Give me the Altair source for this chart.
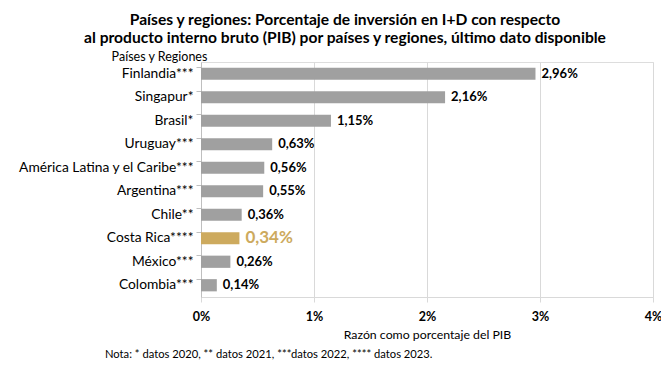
import altair as alt
import pandas as pd

paises = ["Finlandia***", "Singapur*", "Brasil*", "Uruguay***",
          "América Latina y el Caribe***", "Argentina***", "Chile**",
          "Costa Rica****", "México***", "Colombia***"]
valores = [2.96, 2.16, 1.15, 0.63, 0.56, 0.55, 0.36, 0.34, 0.26, 0.14]
destacado = "Costa Rica****"
titulo = ["Países y regiones: Porcentaje de inversión en I+D con respecto",
          "al producto interno bruto (PIB) por países y regiones, último dato disponible"]
nota = ["Nota: * datos 2020, ** datos 2021, ***datos 2022, **** datos 2023."]

FONT = "Lato"
GREY = "#A0A0A0"
GOLD = "#CDAA5E"

df = pd.DataFrame({"pais": paises, "valor": valores})
df["etiqueta"] = [f"{v:.2f}".replace(".", ",") + "%" for v in valores]
df["grupo"] = ["dest" if p == destacado else "otro" for p in paises]

y = alt.Y("pais:N", sort=paises,
          scale=alt.Scale(paddingInner=0.48, paddingOuter=0.24),
          axis=alt.Axis(title="Países y Regiones", titleAngle=0, titleAlign="center",
                        titleX=-42, titleY=1, titleBaseline="bottom",
                        titleFontWeight="normal", titleFontSize=12.5, titleFont=FONT,
                        titleColor="#000",
                        labelFont=FONT, labelFontSize=13.8, labelColor="#000",
                        labelPadding=3, bandPosition=0, tickSize=5,
                        tickColor="#BFBFBF", domainColor="#BFBFBF", grid=False))
x = alt.X("valor:Q", scale=alt.Scale(domain=[0, 4]),
          axis=alt.Axis(title="Razón como porcentaje del PIB", values=[0, 1, 2, 3, 4],
                        labelExpr="datum.value + '%'", labelFont=FONT, labelFontSize=12.5,
                        labelFontWeight="bold", labelColor="#000", labelPadding=8,
                        labelFlush=False,
                        tickSize=5, tickColor="#D9D9D9", domainColor="#D9D9D9",
                        gridColor="#D9D9D9", titleFont=FONT, titleFontSize=12.3,
                        titleFontWeight="normal", titleColor="#000", titlePadding=6))

base = alt.Chart(df)
bars = base.mark_bar().encode(
    x=x, y=y,
    color=alt.Color("grupo:N", scale=alt.Scale(domain=["dest", "otro"], range=[GOLD, GREY]),
                    legend=None))
labels_otro = base.transform_filter(alt.datum.grupo == "otro").mark_text(
    align="left", baseline="middle", dx=6, font=FONT, fontSize=13, fontWeight="bold",
    color="#000").encode(x="valor:Q", y=alt.Y("pais:N", sort=paises), text="etiqueta:N")
labels_dest = base.transform_filter(alt.datum.grupo == "dest").mark_text(
    align="left", baseline="middle", dx=6, font=FONT, fontSize=17, fontWeight="bold",
    color=GOLD).encode(x="valor:Q", y=alt.Y("pais:N", sort=paises), text="etiqueta:N")

nota_layer = alt.Chart(pd.DataFrame({"t": nota})).mark_text(
    align="left", baseline="middle", font=FONT, fontSize=11.2, color="#000").encode(
    x=alt.value(-96), y=alt.value(293), text="t:N")

chart = alt.layer(bars, labels_otro, labels_dest, nota_layer).properties(
    width=452, height=235,
    title=alt.TitleParams(titulo, anchor="middle", dx=-82, font=FONT, fontSize=15.6,
                          fontWeight="bold", color="#000", lineHeight=18, offset=3),
    autosize=alt.AutoSizeParams(type="none"),
    padding={"left": 193, "top": 54, "right": 8, "bottom": 63},
).configure_view(stroke=None).configure(background="white")

chart.save("out.html", embed_options={"renderer": "svg", "actions": False})
